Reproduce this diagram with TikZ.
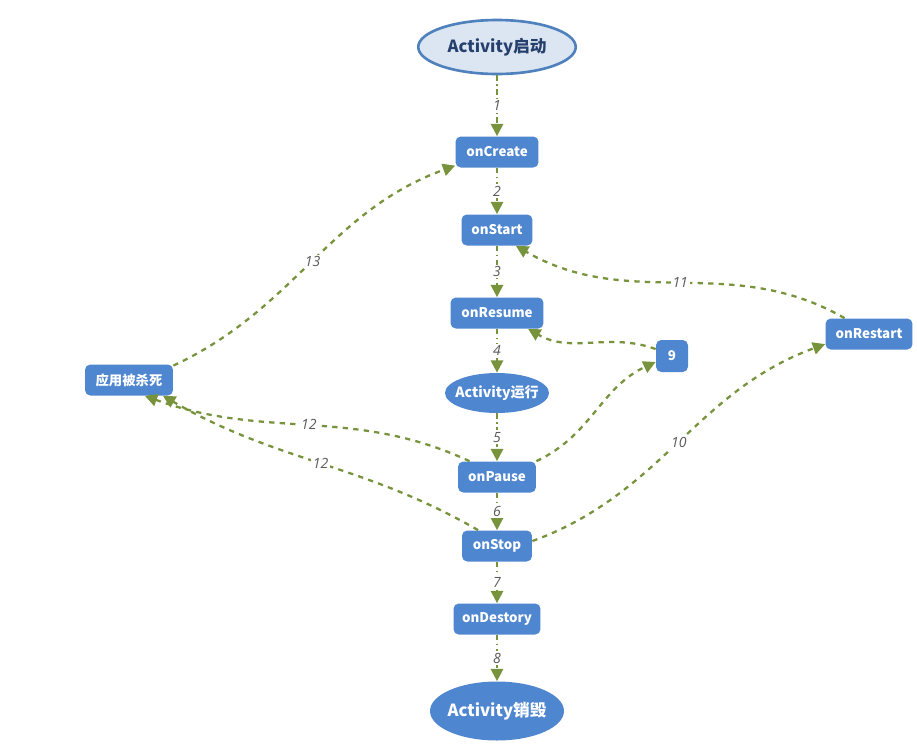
\documentclass[tikz,border=0pt]{standalone}
\usepackage{fontspec}
\setmainfont{Open Sans}
\newfontfamily\cjk{Noto Sans CJK SC}
\usepackage{tikz}
\usetikzlibrary{shapes.geometric,arrows.meta}
\definecolor{boxblue}{RGB}{79,134,208}
\definecolor{edgegreen}{RGB}{119,147,60}
\definecolor{lightblue}{RGB}{220,230,242}
\definecolor{rimblue}{RGB}{79,129,189}
\definecolor{titleblue}{RGB}{38,64,110}
\definecolor{labelgray}{RGB}{90,90,90}

\begin{document}
\begin{tikzpicture}[x=0.02cm, y=-0.02cm,
  box/.style={rectangle, rounded corners=3pt, fill=boxblue, text=white,
    font=\cjk\bfseries\fontsize{7.6}{10}\selectfont, minimum height=0.62cm, inner sep=1pt},
  oval/.style={ellipse, fill=boxblue, text=white, inner xsep=-0.2cm, inner ysep=0pt},
  flow/.style={draw=edgegreen, line width=1.3pt, dashed, -{Triangle[length=7pt,width=7pt]}},
  num/.style={font=\itshape\fontsize{8}{10}\selectfont, text=labelgray, fill=white, inner sep=1pt}]
  \useasboundingbox (0,0) rectangle (917,745);

  % main chain
  \node[oval, draw=rimblue, line width=1.5pt, fill=lightblue, text=titleblue,
    minimum width=3.15cm, minimum height=1.08cm,
    font=\cjk\bfseries\fontsize{9.5}{12}\selectfont] (launch) at (497,47) {Activity启动};
  \node[box, minimum width=1.66cm] (create) at (497,152) {onCreate};
  \node[box, minimum width=1.42cm] (start) at (497,230) {onStart};
  \node[box, minimum width=1.86cm] (resume) at (497,313) {onResume};
  \node[oval, minimum width=2.08cm, minimum height=0.8cm,
    font=\cjk\bfseries\fontsize{8}{10}\selectfont] (running) at (497,393) {Activity运行};
  \node[box, minimum width=1.56cm] (pause) at (497,477) {onPause};
  \node[box, minimum width=1.4cm] (stop) at (497,546) {onStop};
  \node[box, minimum width=1.74cm] (destroy) at (497,619) {onDestory};
  \node[oval, minimum width=2.68cm, minimum height=1.18cm,
    font=\cjk\bfseries\fontsize{9.5}{12}\selectfont] (finish) at (497,711) {Activity销毁};

  % side nodes
  \node[box, minimum width=0.64cm, minimum height=0.64cm] (nine) at (672,356) {9};
  \node[box, minimum width=1.74cm] (restart) at (869,334) {onRestart};
  \node[box, minimum width=1.76cm] (kill) at (129,380) {应用被杀死};

  \foreach \a/\b/\n in {launch/create/1, create/start/2, start/resume/3, resume/running/4,
      running/pause/5, pause/stop/6, stop/destroy/7, destroy/finish/8}
    \draw[flow, dash pattern=on 3pt off 2pt on 1pt off 2pt] (\a) -- node[num] {\n} (\b);

  % curved edges
  \draw[flow] (kill.18) to[out=25, in=200] node[num] {13} (create.198);
  \draw[flow] (restart.147) to[out=150, in=-30] node[num] {11} (start.-40);
  \draw[flow] (pause.north east) to[out=25, in=205] (nine.200);
  \draw[flow] (nine.157) to[out=160, in=-30] (resume.-27);
  \draw[flow] (stop.8) to[out=20, in=200] node[num] {10} (restart.193);
  \draw[flow] (pause.150) to[out=155, in=-20] node[num] {12} (kill.-45);
  \draw[flow] (stop.140) to[out=150, in=-30] node[num] {12} (kill.-25);
\end{tikzpicture}
\end{document}
